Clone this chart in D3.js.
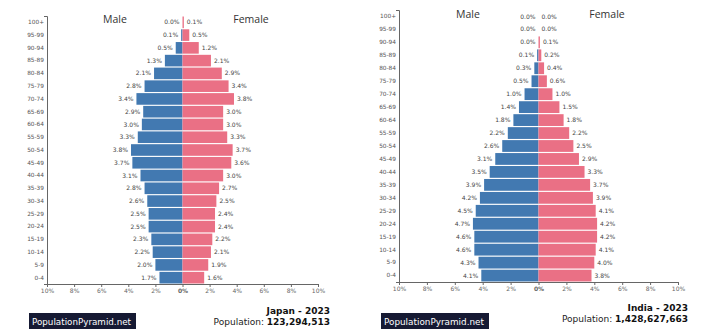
<!DOCTYPE html>
<html><head><meta charset="utf-8">
<script src="https://cdn.jsdelivr.net/npm/d3@7/dist/d3.min.js"></script>
<style>
body{margin:0;background:#fff;}
svg{display:block;}
</style></head>
<body>
<svg id="chart" width="705" height="333"></svg>
<script>
const ageGroups = ["100+","95-99","90-94","85-89","80-84","75-79","70-74","65-69","60-64","55-59","50-54","45-49","40-44","35-39","30-34","25-29","20-24","15-19","10-14","5-9","0-4"];
const japanMale   = [0.0,0.1,0.5,1.3,2.1,2.8,3.4,2.9,3.0,3.3,3.8,3.7,3.1,2.8,2.6,2.5,2.5,2.3,2.2,2.0,1.7];
const japanFemale = [0.1,0.5,1.2,2.1,2.9,3.4,3.8,3.0,3.0,3.3,3.7,3.6,3.0,2.7,2.5,2.4,2.4,2.2,2.1,1.9,1.6];
const indiaMale   = [0.0,0.0,0.0,0.1,0.3,0.5,1.0,1.4,1.8,2.2,2.6,3.1,3.5,3.9,4.2,4.5,4.7,4.6,4.6,4.3,4.1];
const indiaFemale = [0.0,0.0,0.1,0.2,0.4,0.6,1.0,1.5,1.8,2.2,2.5,2.9,3.3,3.7,3.9,4.1,4.2,4.2,4.1,4.0,3.8];
const xTicks = [-10,-8,-6,-4,-2,0,2,4,6,8,10];
const titles = ["Japan - 2023","India - 2023"];
const populations = ["123,294,513","1,428,627,663"];

const MALE = "#4279b1", FEMALE = "#ea7085";
const svg = d3.select("#chart");

function pyramid(cfg){
  const g = svg.append("g");
  const x = d3.scaleLinear().domain([-10,10]).range([cfg.x0, cfg.x1]);
  const y = d3.scaleBand().domain(ageGroups).range([cfg.y0, cfg.y1]).paddingInner(0.09).paddingOuter(0.04);
  const rows = ageGroups.map((a,i)=>({age:a, m:cfg.male[i], f:cfg.female[i]}));

  g.selectAll("rect.m").data(rows).join("rect")
    .attr("x", d=>x(-d.m)).attr("y", d=>y(d.age))
    .attr("width", d=>x(0)-x(-d.m)).attr("height", y.bandwidth())
    .attr("fill", MALE);
  g.selectAll("rect.f").data(rows).join("rect")
    .attr("x", x(0)).attr("y", d=>y(d.age))
    .attr("width", d=>x(d.f)-x(0)).attr("height", y.bandwidth())
    .attr("fill", FEMALE);

  g.selectAll("text.m").data(rows).join("text")
    .attr("x", d=>x(-d.m)-3).attr("y", d=>y(d.age)+y.bandwidth()/2)
    .attr("dy","0.35em").attr("text-anchor","end")
    .attr("font-family","DejaVu Sans, sans-serif").attr("font-size","6px").attr("fill","#444")
    .text(d=>d.m.toFixed(1)+"%");
  g.selectAll("text.f").data(rows).join("text")
    .attr("x", d=>x(d.f)+3).attr("y", d=>y(d.age)+y.bandwidth()/2)
    .attr("dy","0.35em").attr("text-anchor","start")
    .attr("font-family","DejaVu Sans, sans-serif").attr("font-size","6px").attr("fill","#444")
    .text(d=>d.f.toFixed(1)+"%");

  // y axis
  const ya = g.append("g").attr("transform",`translate(${cfg.x0},0)`)
    .call(d3.axisLeft(y).tickSizeInner(0).tickSizeOuter(3).tickPadding(3));
  ya.select(".domain").attr("stroke","#666");
  ya.selectAll("text").attr("font-family","DejaVu Sans, sans-serif").attr("font-size","5.8px").attr("fill","#555");

  // x axis
  const xa = g.append("g").attr("transform",`translate(0,${cfg.y1})`)
    .call(d3.axisBottom(x).tickValues(xTicks).tickSizeInner(3).tickSizeOuter(3).tickPadding(2).tickFormat(d=>Math.abs(d)+"%"));
  xa.select(".domain").attr("stroke","#666");
  xa.selectAll(".tick line").attr("stroke","#666");
  xa.selectAll("text").attr("font-family","DejaVu Sans, sans-serif").attr("font-size","6px").attr("fill","#666")
    .attr("font-weight", d=>d===0?"bold":"normal");

  // titles
  g.append("text").attr("x",cfg.maleX).attr("y",cfg.titleY).attr("text-anchor","middle")
    .attr("font-family","Open Sans, sans-serif").attr("font-size","10.5px").attr("fill","#333").text("Male");
  g.append("text").attr("x",cfg.femaleX).attr("y",cfg.titleY).attr("text-anchor","middle")
    .attr("font-family","Open Sans, sans-serif").attr("font-size","10.5px").attr("fill","#333").text("Female");

  // footer
  g.append("text").attr("x",cfg.rightX).attr("y",cfg.footY).attr("text-anchor","end")
    .attr("font-family","DejaVu Sans, sans-serif").attr("font-size","9px").attr("font-weight","bold").attr("fill","#111")
    .text(cfg.title);
  const p = g.append("text").attr("x",cfg.rightX).attr("y",cfg.footY+10.5).attr("text-anchor","end")
    .attr("font-family","DejaVu Sans, sans-serif").attr("font-size","9px").attr("fill","#222");
  p.append("tspan").text("Population: ");
  p.append("tspan").attr("font-weight","bold").attr("fill","#111").text(cfg.pop);

  g.append("rect").attr("x",cfg.logoX).attr("y",cfg.logoY).attr("width",cfg.logoW).attr("height",16)
    .attr("fill","#161a33");
  g.append("text").attr("x",cfg.logoX+3).attr("y",cfg.logoY+11.5)
    .attr("font-family","DejaVu Sans, sans-serif").attr("font-size","9px").attr("fill","#fff")
    .attr("textLength", cfg.logoW-8).attr("lengthAdjust","spacingAndGlyphs")
    .text("PopulationPyramid.net");
}

pyramid({x0:47, x1:318, y0:16, y1:284, male:japanMale, female:japanFemale,
  maleX:115, femaleX:251, titleY:23, rightX:330, footY:314, title:titles[0], pop:populations[0],
  logoX:29, logoY:313, logoW:107});
pyramid({x0:399, x1:678, y0:10, y1:282, male:indiaMale, female:indiaFemale,
  maleX:468, femaleX:607, titleY:18, rightX:688, footY:311, title:titles[1], pop:populations[1],
  logoX:381, logoY:313, logoW:108});
</script>
</body></html>
